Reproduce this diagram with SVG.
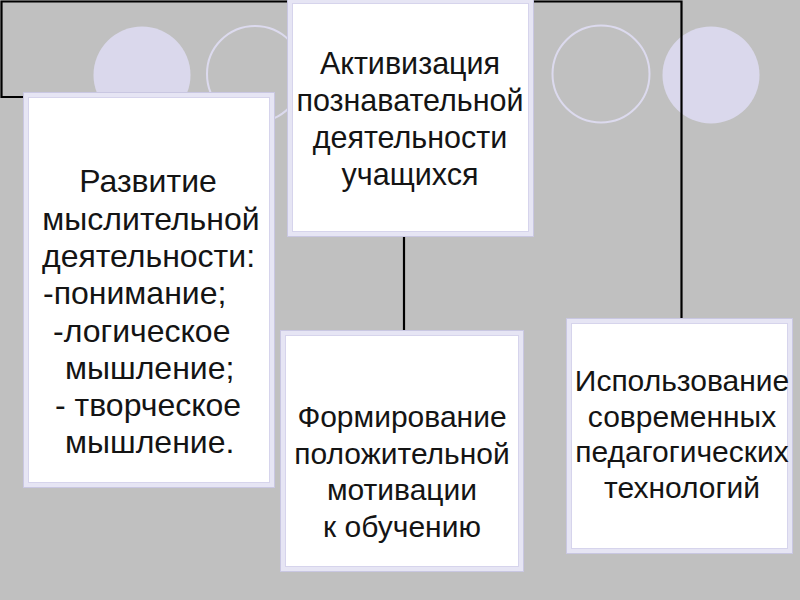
<svg xmlns="http://www.w3.org/2000/svg" width="800" height="600" viewBox="0 0 800 600">
<style>
.frame{fill:#E6E5F4;stroke:#C9C7E2;stroke-width:1}
.inner{fill:#FFFFFF;stroke:#D6D4EC;stroke-width:1}
.t{font-family:"Liberation Sans",Arial,sans-serif;font-size:30px;fill:#141414}
.l{font-size:32px}
.c{text-anchor:middle}
.conn{fill:none;stroke:#000;stroke-width:2.2}
</style>
<rect x="0" y="0" width="800" height="600" fill="#C0C0C0"/>
<g id="decor">
<circle cx="142" cy="75" r="48.5" fill="#DAD8EC"/>
<circle cx="255" cy="74" r="48" fill="none" stroke="#DCDAEE" stroke-width="2"/>
<circle cx="601" cy="74" r="48.5" fill="none" stroke="#DCDAEE" stroke-width="2"/>
<circle cx="711" cy="75" r="48.5" fill="#DAD8EC"/>
</g>
<g id="connectors">
<polyline class="conn" points="28,97 1.5,97 1.5,1.5 681.5,1.5 681.5,321"/>
<line class="conn" x1="404" y1="236" x2="404" y2="331" stroke-width="3"/>
</g>
<g id="node-center">
<rect class="frame" x="287.5" y="-1" width="246" height="237.5"/>
<rect class="inner" x="292.5" y="3.5" width="236" height="228"/>
<text class="t c" x="410" y="74" style="font-size:30.5px">Активизация</text>
<text class="t c" x="410" y="111" style="font-size:30.5px">познавательной</text>
<text class="t c" x="410" y="148" style="font-size:30.5px">деятельности</text>
<text class="t c" x="410" y="184.5" style="font-size:30.5px">учащихся</text>
</g>
<g id="node-left">
<rect class="frame" x="23.5" y="92.5" width="251" height="395"/>
<rect class="inner" x="28.5" y="97.5" width="241" height="385"/>
<text class="t l c" x="148" y="192">Развитие</text>
<text class="t l c" x="151" y="229.5">мыслительной</text>
<text class="t l c" x="148.5" y="267">деятельности:</text>
<text class="t l" x="43" y="304">-понимание;</text>
<text class="t l" x="53" y="341.5">-логическое</text>
<text class="t l" x="65" y="379">мышление;</text>
<text class="t l" x="55" y="416">- творческое</text>
<text class="t l" x="65" y="453">мышление.</text>
</g>
<g id="node-middle">
<rect class="frame" x="280.5" y="330.5" width="243" height="241"/>
<rect class="inner" x="285.5" y="335.5" width="233" height="231"/>
<text class="t c" x="402" y="427">Формирование</text>
<text class="t c" x="402" y="464">положительной</text>
<text class="t c" x="402" y="500">мотивации</text>
<text class="t c" x="402" y="536.5">к обучению</text>
</g>
<g id="node-right">
<rect class="frame" x="566.5" y="318.5" width="226" height="235"/>
<rect class="inner" x="571.5" y="323.5" width="216" height="225"/>
<text class="t c" x="682" y="391">Использование</text>
<text class="t c" x="682" y="426.5">современных</text>
<text class="t c" x="682" y="462">педагогических</text>
<text class="t c" x="682" y="497.5">технологий</text>
</g>
</svg>
